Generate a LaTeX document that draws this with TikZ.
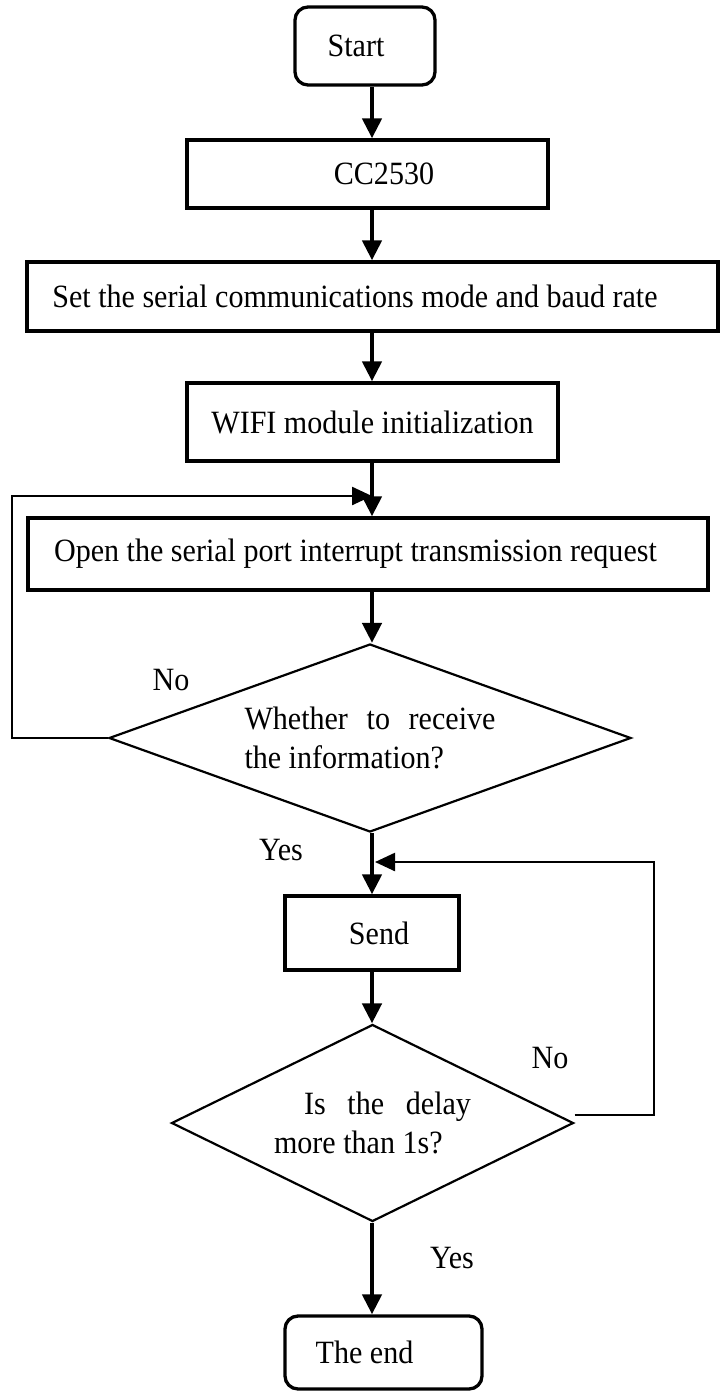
\documentclass[tikz,border=0pt]{standalone}
\usepackage{fontspec}
\setmainfont[FakeStretch=0.925]{Liberation Serif}
\usetikzlibrary{shapes.geometric,arrows.meta}
\begin{document}
\begin{tikzpicture}[x=1pt,y=-1pt,
  every node/.style={font=\fontsize{32.5}{38.5}\selectfont},
  box/.style={draw, line width=3.3pt, rectangle, inner sep=0pt},
  term/.style={box, rounded corners=13pt},
  dec/.style={draw, diamond, line width=2.2pt, inner sep=0pt, align=left},
  arr/.style={line width=4.5pt, -{Triangle[length=20pt,width=19pt]}},
  back/.style={line width=2.4pt, -{Triangle[length=20pt,width=18pt]}},
  lab/.style={inner sep=0pt}
]
\useasboundingbox (0,0) rectangle (720,1391);
\coordinate (ax) at (372,0);

\node[term, minimum width=140pt, minimum height=78pt] (start) at (365,46) {Start\hspace*{18pt}};
\node[box, minimum width=361pt, minimum height=68pt] (cc) at (367.5,174) {\hspace*{33pt}\raisebox{-4pt}{CC2530}};
\node[box, minimum width=691pt, minimum height=69pt] (set) at (372.5,296.5) {Set the serial communications mode and baud rate\hspace*{35pt}};
\node[box, minimum width=371pt, minimum height=78pt] (wifi) at (372.5,422) {WIFI module initialization};
\node[box, minimum width=680pt, minimum height=72pt] (open) at (368,554) {Open the serial port interrupt transmission request\hspace*{25pt}};
\node[dec, shape aspect=2.78, minimum width=522pt, minimum height=188pt] (d1) at (370,738) {\makebox[251pt][s]{Whether to receive}\\the information?};
\node[box, minimum width=174pt, minimum height=74pt] (send) at (372,933) {\hspace*{14pt}Send};
\node[dec, shape aspect=2.04, minimum width=402pt, minimum height=197pt] (d2) at (372.5,1123) {\hspace*{30pt}\makebox[167pt][s]{Is the delay}\\more than 1s?};
\node[term, minimum width=197pt, minimum height=73pt] (end) at (383.5,1352.5) {The end\hspace*{38pt}};

\node[lab] (no1) at (171,680) {No};
\node[lab] (yes1) at (281,850) {Yes};
\node[lab] (no2) at (550,1058) {No};
\node[lab] (yes2) at (452,1258) {Yes};

\draw[arr] (start.south -| ax) -- (cc.north -| ax);
\draw[arr] (cc.south -| ax) -- (set.north -| ax);
\draw[arr] (set.south -| ax) -- (wifi.north -| ax);
\draw[arr] (wifi.south -| ax) -- (open.north -| ax);
\draw[arr] (open.south -| ax) -- (d1.north -| ax);
\draw[arr] (d1.south -| ax) -- (send.north -| ax);
\draw[arr] (send.south -| ax) -- (d2.north -| ax);
\draw[arr] (d2.south -| ax) -- (end.north -| ax);

\coordinate (l1) at (12,496);
\coordinate (j1) at (372,496);
\draw[back] (d1.west) -| (l1) -- (j1);

\coordinate (r2) at (654,862);
\coordinate (j2) at (375,862);
\draw[back] ([yshift=8pt]d2.east) -| (r2) -- (j2);
\end{tikzpicture}
\end{document}
